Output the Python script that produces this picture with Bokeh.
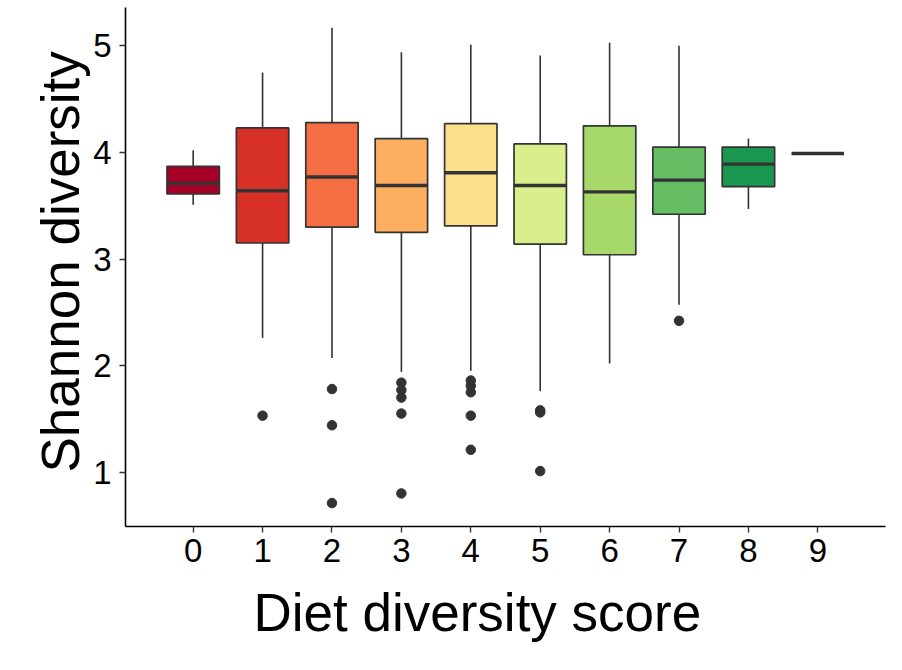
from bokeh.plotting import figure
from bokeh.models import Range1d, FixedTicker, ColumnDataSource, Title
from bokeh.embed import file_html
from bokeh.resources import INLINE

# Diet diversity score groups and Shannon diversity summary statistics
scores = [0, 1, 2, 3, 4, 5, 6, 7, 8, 9]
lower_whisker = [3.51, 2.26, 2.07, 1.94, 1.95, 1.76, 2.02, 2.57, 3.47, 3.99]
q1 = [3.61, 3.15, 3.30, 3.25, 3.31, 3.14, 3.04, 3.42, 3.68, 3.99]
median = [3.71, 3.64, 3.77, 3.69, 3.81, 3.69, 3.63, 3.74, 3.89, 3.99]
q3 = [3.87, 4.23, 4.28, 4.13, 4.27, 4.08, 4.25, 4.05, 4.05, 3.99]
upper_whisker = [4.02, 4.75, 5.17, 4.94, 5.01, 4.91, 5.03, 5.00, 4.13, 3.99]

# Outlying samples: (score, Shannon diversity)
outlier_score = [1, 2, 2, 2, 3, 3, 3, 3, 3, 4, 4, 4, 4, 4, 5, 5, 5, 7]
outlier_value = [1.53, 1.78, 1.44, 0.71, 1.84, 1.77, 1.70, 1.55, 0.80,
                 1.86, 1.81, 1.75, 1.53, 1.21, 1.58, 1.56, 1.01, 2.42]

# RdYlGn palette, one colour per score
colors = ["#A50026", "#D73027", "#F46D43", "#FDAE61", "#FEE08B",
          "#D9EF8B", "#A6D96A", "#66BD63", "#1A9850", "#006837"]

tick_labels = [str(s) for s in scores]
x_title = "Diet diversity score"
y_title = "Shannon diversity"

FONT = "Liberation Sans"
EDGE = "#333333"

p = figure(width=902, height=670, output_backend="svg", toolbar_location=None,
           x_range=Range1d(-0.975, 9.975), y_range=Range1d(0.49, 5.36),
           min_border_left=125, min_border_right=17, min_border_top=7,
           min_border_bottom=144)
p.outline_line_color = None
p.xgrid.grid_line_color = None
p.ygrid.grid_line_color = None
p.background_fill_color = "white"
p.border_fill_color = "white"

src = ColumnDataSource(dict(x=scores, lw=lower_whisker, q1=q1, med=median,
                            q3=q3, uw=upper_whisker, color=colors))

# whiskers
p.segment(x0="x", y0="q3", x1="x", y1="uw", source=src, line_color=EDGE, line_width=1.6)
p.segment(x0="x", y0="lw", x1="x", y1="q1", source=src, line_color=EDGE, line_width=1.6)
# boxes
p.vbar(x="x", width=0.755, bottom="q1", top="q3", source=src,
       fill_color="color", line_color=EDGE, line_width=1.7)
# medians
src_med = ColumnDataSource(dict(x0=[s - 0.3775 for s in scores],
                                x1=[s + 0.3775 for s in scores], y=median))
p.segment(x0="x0", y0="y", x1="x1", y1="y", source=src_med,
          line_color=EDGE, line_width=3.4)
# outliers
p.scatter(outlier_score, outlier_value, size=9.5, fill_color=EDGE, line_color=EDGE)

# axes
for ax in (p.xaxis, p.yaxis):
    ax.axis_line_color = "black"
    ax.axis_line_width = 1.6
    ax.major_tick_line_color = EDGE
    ax.major_tick_line_width = 1.4
    ax.major_tick_out = 6
    ax.major_tick_in = 0
    ax.minor_tick_line_color = None
    ax.major_label_text_font = FONT
    ax.major_label_text_font_size = "33px"
    ax.major_label_text_color = "black"

p.xaxis.ticker = FixedTicker(ticks=scores)
p.xaxis.major_label_overrides = {s: lab for s, lab in zip(scores, tick_labels)}
p.xaxis.major_label_standoff = 6

p.yaxis.ticker = FixedTicker(ticks=[1, 2, 3, 4, 5])
p.yaxis.major_label_standoff = 8

# axis titles
p.add_layout(Title(text=x_title, align="left", offset=128, standoff=32,
                   text_font=FONT, text_font_size="53px", text_font_style="normal",
                   text_color="black"), "below")
p.add_layout(Title(text=y_title, align="left", offset=54, standoff=2,
                   text_font=FONT, text_font_size="53px", text_font_style="normal",
                   text_color="black"), "left")

open("out.html", "w").write(file_html(p, INLINE))
